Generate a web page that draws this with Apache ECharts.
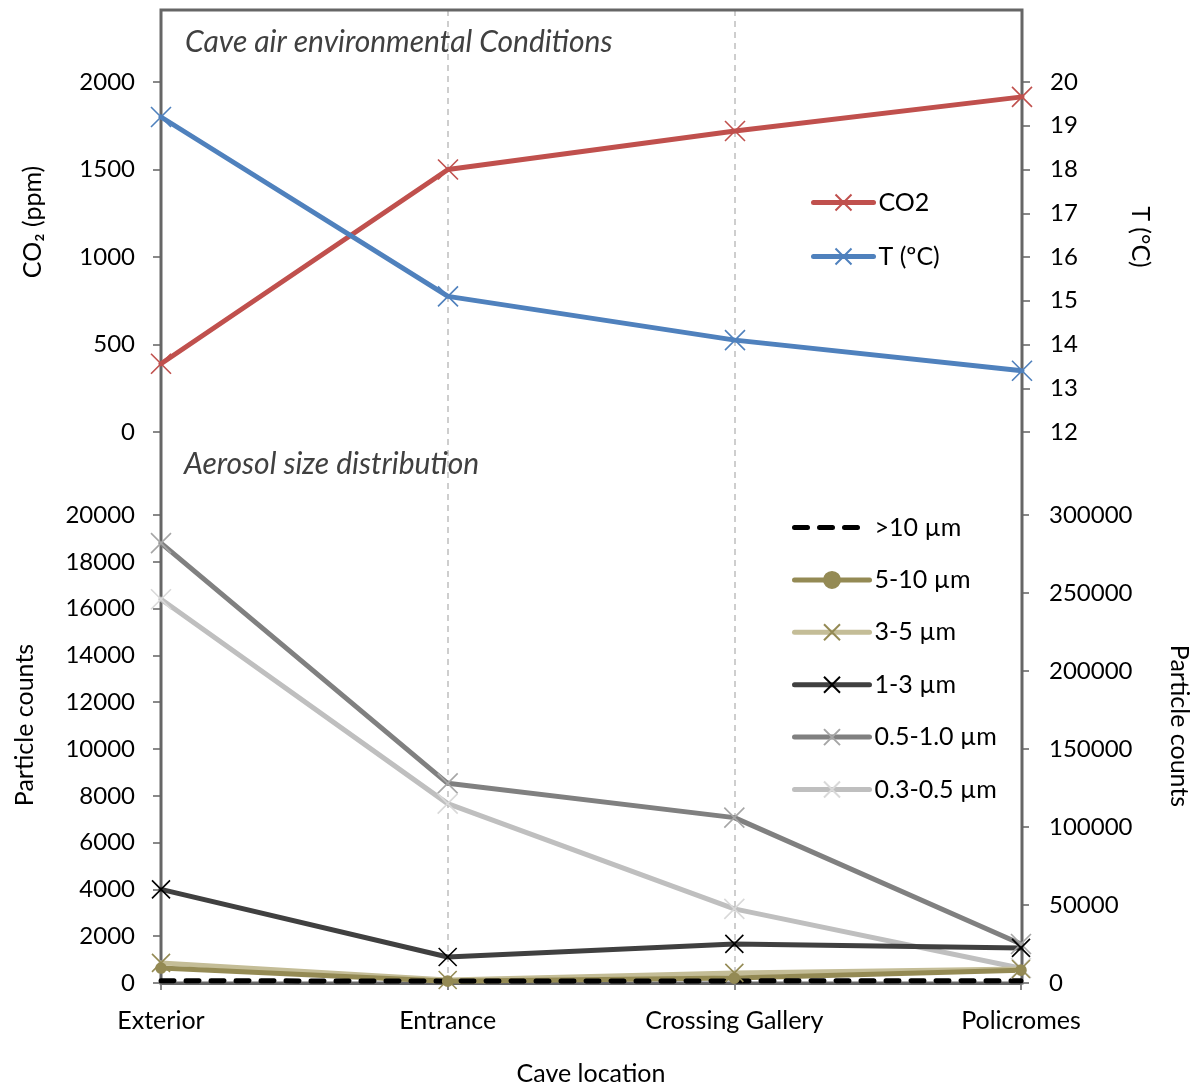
<!DOCTYPE html>
<html><head><meta charset="utf-8">
<script src="https://cdn.jsdelivr.net/npm/echarts@6/dist/echarts.min.js"></script>
<style>html,body{margin:0;padding:0;background:#fff}#c{width:1200px;height:1088px}</style>
</head><body><div id="c"></div>
<script>
const categories = ['Exterior', 'Entrance', 'Crossing Gallery', 'Policromes'];
const co2 = [390, 1500, 1720, 1915];
const temperature = [19.2, 15.1, 14.1, 13.4];
const gt10 = [100, 80, 90, 100];
const um5to10 = [640, 80, 210, 550];
const um3to5 = [860, 130, 430, 600];
const um1to3 = [4000, 1110, 1670, 1500];
const um05to1 = [282000, 128000, 106000, 25000];
const um03to05 = [246000, 115000, 47500, 9500];

const FONT = 'Lato';
const FS = 25;
const X = 'path://M0,0L10,10M10,0L0,10';
const chart = echarts.init(document.getElementById('c'));

function lineS(name, data, xi, yi, color, mColor, symbol, size, extra) {
  return Object.assign({
    name, type: 'line', data, xAxisIndex: xi, yAxisIndex: yi,
    symbol: symbol, symbolSize: size, clip: false,
    lineStyle: { color: color, width: 5, cap: 'round', join: 'round' },
    itemStyle: { color: mColor, borderColor: mColor, borderWidth: 1.6 },
    emphasis: { disabled: true }, animation: false
  }, extra || {});
}

const plain = function (v) { return String(v); };
const axisLbl = { color: '#000', fontSize: 24, fontFamily: FONT, formatter: plain };
const tick = { show: true, inside: false, length: 8, lineStyle: { color: '#888', width: 2 } };
const nameStyle = function (pad) { return { fontSize: FS, color: '#000', fontFamily: FONT, padding: pad }; };

chart.setOption({
  animation: false,
  textStyle: { fontFamily: FONT },
  title: [
    { text: 'Cave air environmental Conditions', left: 180, top: 22,
      textStyle: { fontStyle: 'italic', fontWeight: 'normal', fontSize: 30, color: '#404040', fontFamily: FONT } },
    { text: 'Aerosol size distribution', left: 179, top: 444,
      textStyle: { fontStyle: 'italic', fontWeight: 'normal', fontSize: 30, color: '#404040', fontFamily: FONT } }
  ],
  grid: [
    { left: 161, right: 178, top: 82, height: 350 },
    { left: 161, right: 178, top: 515, bottom: 105 },
    { left: 161, right: 178, top: 10, bottom: 105, show: true, borderColor: '#666', borderWidth: 3, backgroundColor: 'transparent', z: 1 }
  ],
  legend: [
    { data: ['CO2', 'T (ºC)'], orient: 'vertical', left: 806, top: 185, itemWidth: 60, itemHeight: 20, itemGap: 29,
      lineStyle: { width: 5 }, textStyle: { fontSize: FS, color: '#000', fontFamily: FONT }, selectedMode: false },
    { data: ['>10 µm', '5-10 µm', '3-5 µm', '1-3 µm', '0.5-1.0 µm', '0.3-0.5 µm'], orient: 'vertical', left: 787, top: 510,
      itemWidth: 75, itemHeight: 20, itemGap: 27.4, lineStyle: { width: 5 },
      textStyle: { fontSize: FS, color: '#000', fontFamily: FONT }, selectedMode: false }
  ],
  xAxis: [
    { type: 'category', data: categories, gridIndex: 0, boundaryGap: false, show: false },
    { type: 'category', data: categories, gridIndex: 1, boundaryGap: false,
      axisLine: { show: true, lineStyle: { color: '#666', width: 3 } },
      axisTick: { show: true, length: 7, lineStyle: { color: '#888', width: 2 } },
      axisLabel: { margin: 25, interval: 0, color: '#000', fontSize: FS, fontFamily: FONT },
      name: 'Cave location', nameLocation: 'middle', nameGap: 78,
      nameTextStyle: nameStyle(0) },
    { type: 'category', data: categories, gridIndex: 2, boundaryGap: false,
      axisLine: { show: false }, axisTick: { show: false }, axisLabel: { show: false },
      splitLine: { show: true, interval: function (i) { return i === 1 || i === 2; },
        lineStyle: { color: '#BFBFBF', width: 1.5, type: [6, 5] } } }
  ],
  yAxis: [
    { type: 'value', gridIndex: 0, min: 0, max: 2000, interval: 500, position: 'left',
      axisLine: { show: false }, axisTick: tick, splitLine: { show: false },
      axisLabel: Object.assign({ margin: 26 }, axisLbl),
      name: 'CO₂ (ppm)', nameLocation: 'middle', nameGap: 116, nameRotate: 90,
      nameTextStyle: nameStyle([0, 0, 0, 70]) },
    { type: 'value', gridIndex: 0, min: 12, max: 20, interval: 1, position: 'right',
      axisLine: { show: false }, axisTick: tick, splitLine: { show: false },
      axisLabel: Object.assign({ margin: 28 }, axisLbl),
      name: 'T (°C)', nameLocation: 'middle', nameGap: 106, nameRotate: -90,
      nameTextStyle: nameStyle([0, 40, 0, 0]) },
    { type: 'value', gridIndex: 1, min: 0, max: 20000, interval: 2000, position: 'left',
      axisLine: { show: false }, axisTick: tick, splitLine: { show: false },
      axisLabel: Object.assign({ margin: 26 }, axisLbl),
      name: 'Particle counts', nameLocation: 'middle', nameGap: 124, nameRotate: 90,
      nameTextStyle: nameStyle([0, 0, 0, 48]) },
    { type: 'value', gridIndex: 1, min: 0, max: 300000, interval: 50000, position: 'right',
      axisLine: { show: false }, axisTick: tick, splitLine: { show: false },
      axisLabel: Object.assign({ margin: 28 }, axisLbl),
      name: 'Particle counts', nameLocation: 'middle', nameGap: 146, nameRotate: -90,
      nameTextStyle: nameStyle([0, 46, 0, 0]) },
    { type: 'value', gridIndex: 2, show: false, splitLine: { show: false } }
  ],
  series: [
    lineS('CO2', co2, 0, 0, '#C0504D', '#C0504D', X, 20),
    lineS('T (ºC)', temperature, 0, 1, '#4F81BD', '#4F81BD', X, 20),
    lineS('0.5-1.0 µm', um05to1, 1, 3, '#808080', '#A6A6A6', X, 20),
    lineS('0.3-0.5 µm', um03to05, 1, 3, '#BFBFBF', '#D9D9D9', X, 20),
    lineS('1-3 µm', um1to3, 1, 2, '#404040', '#000000', X, 18),
    lineS('3-5 µm', um3to5, 1, 2, '#C4BD97', '#948A54', X, 18),
    lineS('5-10 µm', um5to10, 1, 2, '#948A54', '#948A54', 'circle', 10),
    lineS('>10 µm', gt10, 1, 2, '#000000', 'rgba(0,0,0,0)', 'circle', 0,
      { showSymbol: false, lineStyle: { color: '#000', width: 5, type: [13, 12], cap: 'round' } })
  ]
});
</script></body></html>
